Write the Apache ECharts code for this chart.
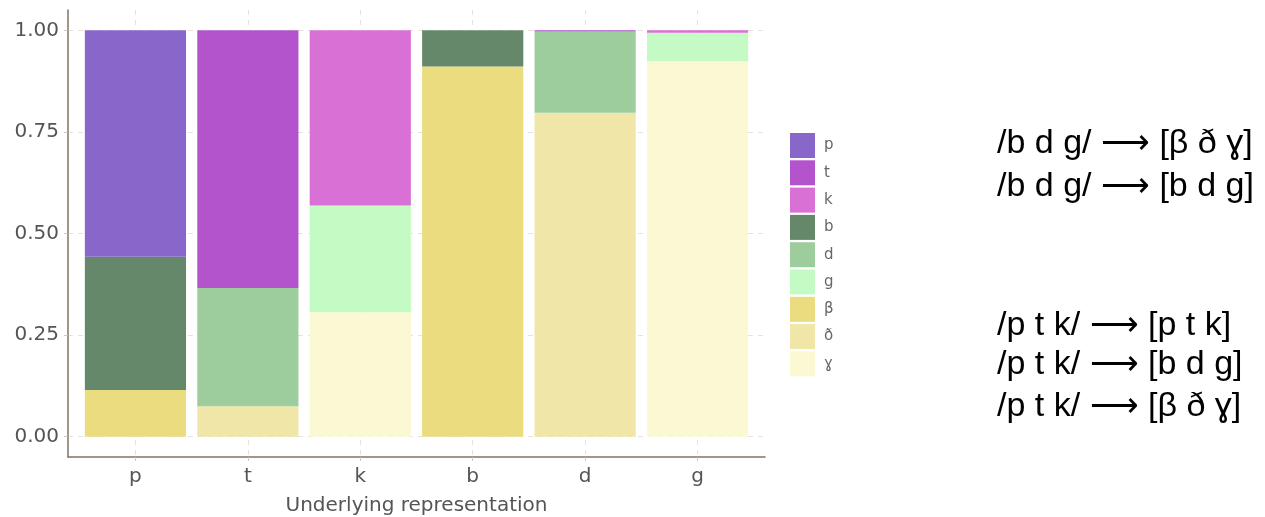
<!DOCTYPE html>
<html>
<head>
<meta charset="utf-8">
<script src="https://cdn.jsdelivr.net/npm/echarts@6/dist/echarts.min.js"></script>
<style>
html,body{margin:0;padding:0;background:#fff;}
#c{width:1265px;height:517px;}
</style>
</head>
<body>
<div id="c"></div>
<script>
// Categories (underlying representation)
const categories = ['p', 't', 'k', 'b', 'd', 'g'];
// Legend order (top to bottom)
const legendOrder = ['p', 't', 'k', 'b', 'd', 'g', 'β', 'ð', 'ɣ'];
// Proportions per surface form, for categories p,t,k,b,d,g
const s_p = [0.557, 0, 0, 0, 0, 0];
const s_t = [0, 0.634, 0, 0, 0.003, 0];
const s_k = [0, 0, 0.431, 0, 0, 0.006];
const s_b = [0.328, 0, 0, 0.089, 0, 0];
const s_d = [0, 0.291, 0, 0, 0.200, 0];
const s_g = [0, 0, 0.263, 0, 0, 0.070];
const s_beta = [0.115, 0, 0, 0.911, 0, 0];
const s_eth = [0, 0.075, 0, 0, 0.797, 0];
const s_gamma = [0, 0, 0.306, 0, 0, 0.924];
// Y tick values
const yTicks = [0, 0.25, 0.5, 0.75, 1.0];
// Side annotation lines
const notes = ['/b d g/ ⟶ [β ð ɣ]', '/b d g/ ⟶ [b d g]', '/p t k/ ⟶ [p t k]', '/p t k/ ⟶ [b d g]', '/p t k/ ⟶ [β ð ɣ]'];

const colors = {
  'p': '#8966c9', 't': '#b354cc', 'k': '#d970d6',
  'b': '#66886a', 'd': '#9dcd9d', 'g': '#c4fbc4',
  'β': '#ebdc80', 'ð': '#efe6a8', 'ɣ': '#fbf8d4'
};
const seriesData = {
  'p': s_p, 't': s_t, 'k': s_k, 'b': s_b, 'd': s_d, 'g': s_g,
  'β': s_beta, 'ð': s_eth, 'ɣ': s_gamma
};
const stackOrder = legendOrder.slice().reverse();

const FONT = 'DejaVu Sans';
const gridL = 68, gridW = 697, gridT = 10, gridH = 447;
const unit = gridW / 6.2;

const chart = echarts.init(document.getElementById('c'), null, {renderer: 'canvas'});
const noteY = [143, 186, 325, 364, 406];

chart.setOption({
  animation: false,
  backgroundColor: '#ffffff',
  grid: [
    {left: gridL, top: gridT, width: gridW, height: gridH, containLabel: false, outerBoundsMode: 'none'},
    {left: gridL + 0.1 * unit, top: gridT, width: 6 * unit, height: gridH, containLabel: false, outerBoundsMode: 'none'}
  ],
  xAxis: [
    {
      gridIndex: 0, type: 'value', min: 0.4, max: 6.6,
      axisLine: {show: true, onZero: false, lineStyle: {color: '#86735f', width: 1.5}},
      axisTick: {show: true, customValues: [1, 2, 3, 4, 5, 6], length: 4, lineStyle: {color: '#cfc8c2'}},
      axisLabel: {customValues: [1, 2, 3, 4, 5, 6], formatter: v => categories[Math.round(v) - 1],
        fontFamily: FONT, fontSize: 20, color: '#555', margin: 10},
      splitLine: {show: true, lineStyle: {color: '#e8e2de', type: [5, 5], width: 1}},
      name: 'Underlying representation', nameLocation: 'middle', nameGap: 39,
      nameTextStyle: {fontFamily: FONT, fontSize: 20, color: '#555'}
    },
    {gridIndex: 1, type: 'category', data: categories, show: false}
  ],
  yAxis: [
    {
      gridIndex: 0, type: 'value', min: -0.05, max: 1.05,
      axisLine: {show: true, onZero: false, lineStyle: {color: '#86735f', width: 1.5}},
      axisTick: {show: true, customValues: yTicks, length: 4, lineStyle: {color: '#cfc8c2'}},
      axisLabel: {customValues: yTicks, formatter: v => v.toFixed(2),
        fontFamily: FONT, fontSize: 20, color: '#555', margin: 9},
      splitLine: {show: true, lineStyle: {color: '#e8e2de', type: [5, 5], width: 1}}
    },
    {gridIndex: 1, type: 'value', min: -0.05, max: 1.05, show: false}
  ],
  legend: {
    data: legendOrder,
    orient: 'vertical',
    left: 785, top: 128,
    itemWidth: 25, itemHeight: 25, itemGap: 2.3,
    icon: 'rect',
    textStyle: {fontFamily: FONT, fontSize: 15, color: '#666', padding: [0, 0, 0, 4]}
  },
  series: stackOrder.map(name => ({
    name: name,
    type: 'bar',
    xAxisIndex: 1, yAxisIndex: 1,
    stack: 'all',
    barWidth: '90%',
    data: seriesData[name],
    itemStyle: {color: colors[name]}
  })),
  graphic: notes.map((t, i) => ({
    type: 'text',
    left: 997, top: noteY[i] - 16,
    style: {text: t, font: '34px "Liberation Sans"', fill: '#000'}
  }))
});
</script>
</body>
</html>
